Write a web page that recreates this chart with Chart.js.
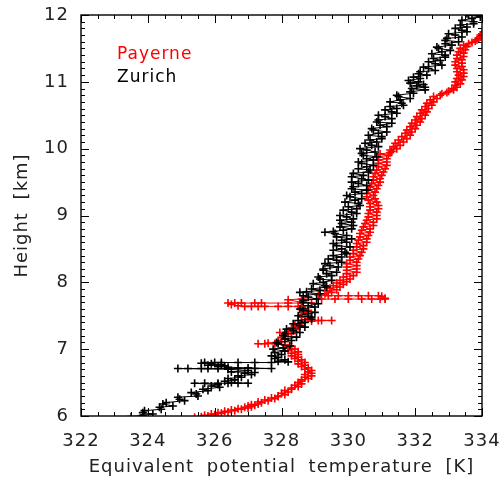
<!DOCTYPE html>
<html><head><meta charset="utf-8">
<script src="https://cdn.jsdelivr.net/npm/chart.js@4.4.1/dist/chart.umd.min.js"></script>
<style>html,body{margin:0;padding:0;background:#fff;}canvas{display:block;}</style>
</head><body>
<canvas id="c" width="504" height="479"></canvas>
<script>
const seriesNames = ['Payerne', 'Zurich'];
const seriesColors = ['#ff0000', '#000000'];
const xTitle = 'Equivalent potential temperature [K]';
const yTitle = 'Height [km]';
const xRange = [322, 334];
const yRange = [6, 12];

const zurichHeight = [
 5.97,5.99,6.01,6.03,6.05,6.08,6.10,6.13,6.15,6.18,
 6.20,6.23,6.25,6.28,6.30,6.33,6.35,6.38,6.40,6.43,
 6.45,6.47,6.49,6.49,6.49,6.49,6.49,6.49,6.50,6.52,
 6.54,6.56,6.58,6.60,6.62,6.64,6.65,6.66,6.68,6.70,
 6.71,6.71,6.71,6.71,6.71,6.71,6.71,6.71,6.72,6.73,
 6.74,6.75,6.76,6.77,6.78,6.79,6.80,6.80,6.80,6.80,
 6.80,6.80,6.81,6.82,6.84,6.86,6.88,6.90,6.92,6.95,
 6.97,7.00,7.02,7.05,7.08,7.10,7.13,7.15,7.18,7.20,
 7.23,7.25,7.28,7.30,7.33,7.35,7.38,7.40,7.43,7.45,
 7.48,7.50,7.53,7.55,7.58,7.60,7.63,7.65,7.68,7.70,
 7.73,7.75,7.78,7.80,7.83,7.85,7.86,7.88,7.90,7.93,
 7.95,7.98,8.00,8.03,8.05,8.08,8.10,8.13,8.15,8.18,
 8.20,8.23,8.25,8.28,8.30,8.33,8.35,8.38,8.40,8.43,
 8.45,8.48,8.50,8.53,8.55,8.58,8.60,8.63,8.65,8.68,
 8.70,8.73,8.75,8.76,8.78,8.80,8.83,8.85,8.88,8.90,
 8.93,8.95,8.98,9.00,9.03,9.05,9.08,9.10,9.13,9.15,
 9.18,9.20,9.23,9.25,9.28,9.30,9.33,9.35,9.38,9.40,
 9.43,9.45,9.48,9.50,9.53,9.55,9.58,9.60,9.63,9.65,
 9.68,9.70,9.73,9.75,9.78,9.80,9.83,9.85,9.88,9.90,
 9.93,9.95,9.98,10.00,10.03,10.05,10.08,10.10,10.13,10.15,
 10.18,10.20,10.23,10.25,10.28,10.30,10.33,10.35,10.38,10.40,
 10.43,10.45,10.48,10.50,10.53,10.55,10.58,10.60,10.63,10.65,
 10.68,10.70,10.73,10.75,10.78,10.80,10.83,10.85,10.88,10.90,
 10.92,10.94,10.96,10.98,11.00,11.02,11.05,11.07,11.10,11.12,
 11.15,11.17,11.20,11.22,11.25,11.27,11.30,11.32,11.35,11.37,
 11.40,11.42,11.45,11.47,11.50,11.52,11.55,11.57,11.60,11.62,
 11.65,11.67,11.70,11.72,11.75,11.77,11.80,11.82,11.85,11.87,
 11.90,11.92,11.95,11.97,12.00,12.02,12.05,12.08,12.10,12.12
];
const zurichTheta = [
 323.8,323.5,323.85,324.15,323.85,323.9,324.4,324.35,324.75,324.45,
 324.55,325.1,324.95,324.9,325.5,325.45,325.3,325.8,325.65,326.15,
 325.9,326.1,325.4,325.7,326.1,326.4,326.7,327.0,326.5,326.3,
 326.6,326.4,326.8,326.7,327.1,326.9,327.2,326.5,327.0,326.4,
 324.9,325.2,325.6,325.8,326.1,326.7,327.2,327.7,327.0,326.4,
 326.1,326.3,325.8,326.2,325.9,325.6,325.7,326.0,326.2,326.7,
 327.2,327.7,328.2,327.9,328.1,327.8,327.9,327.7,328.0,327.8,
 328.1,327.75,328.05,328.25,327.9,327.85,328.3,328.1,328.45,328.05,
 328.1,328.55,328.35,328.15,328.7,328.55,328.35,328.7,328.5,328.9,
 328.9,328.5,328.8,329.0,328.65,328.55,329.0,328.8,329.1,328.65,
 328.65,329.05,328.8,328.65,329.15,328.55,328.75,329.15,328.9,329.35,
 329.3,328.95,329.25,329.5,329.15,329.1,329.5,329.35,329.65,329.25,
 329.25,329.7,329.45,329.3,329.8,329.65,329.4,329.8,329.55,329.95,
 329.9,329.55,329.8,330.05,329.65,329.55,329.95,329.8,330.1,329.65,
 329.95,329.6,329.3,329.55,329.85,330.1,329.75,330.15,329.8,330.1,
 329.75,330.15,329.95,329.75,330.25,330.1,329.85,330.25,330.0,330.35,
 330.3,329.9,330.2,330.4,330.05,329.95,330.4,330.2,330.55,330.1,
 330.15,330.55,330.3,330.1,330.6,330.4,330.1,330.45,330.15,330.6,
 330.65,330.3,330.55,330.75,330.4,330.3,330.75,330.55,330.85,330.45,
 330.4,330.8,330.55,330.35,330.9,330.7,330.5,330.85,330.65,331.0,
 331.0,330.6,330.9,331.15,330.75,330.7,331.15,330.95,331.3,330.85,
 330.9,331.3,331.1,330.9,331.45,331.3,331.1,331.45,331.25,331.65,
 331.6,331.25,331.55,331.85,331.5,331.45,331.95,331.85,332.3,331.9,
 332.3,332.05,332.25,331.85,332.1,331.8,332.15,331.95,332.35,332.1,
 332.15,332.6,332.4,332.25,332.8,332.6,332.4,332.75,332.55,332.9,
 332.9,332.5,332.8,333.05,332.7,332.65,333.1,332.9,333.3,332.9,
 332.95,333.4,333.2,333.0,333.55,333.4,333.2,333.55,333.35,333.75,
 333.75,333.4,333.7,333.95,333.6,333.55,334.0,333.85,334.25,333.85
];

const payerneHeight = [
 5.98,5.99,6.00,6.01,6.02,6.03,6.04,6.05,6.06,6.07,
 6.08,6.09,6.10,6.11,6.12,6.13,6.14,6.15,6.16,6.17,
 6.18,6.20,6.21,6.23,6.24,6.26,6.27,6.29,6.30,6.32,
 6.34,6.36,6.38,6.40,6.42,6.44,6.46,6.48,6.50,6.52,
 6.54,6.56,6.58,6.60,6.62,6.64,6.66,6.68,6.70,6.72,
 6.74,6.76,6.78,6.80,6.82,6.84,6.86,6.88,6.90,6.92,
 6.94,6.96,6.98,7.00,7.02,7.04,7.06,7.08,7.08,7.08,
 7.09,7.10,7.11,7.13,7.15,7.17,7.19,7.21,7.23,7.25,
 7.26,7.28,7.30,7.32,7.34,7.36,7.38,7.40,7.42,7.43,
 7.43,7.43,7.44,7.46,7.48,7.50,7.52,7.54,7.56,7.58,
 7.60,7.62,7.64,7.64,7.64,7.64,7.64,7.64,7.64,7.65,
 7.67,7.69,7.69,7.69,7.69,7.69,7.69,7.69,7.69,7.70,
 7.74,7.75,7.75,7.75,7.75,7.75,7.75,7.75,7.75,7.76,
 7.79,7.80,7.80,7.80,7.80,7.80,7.80,7.81,7.83,7.85,
 7.87,7.89,7.91,7.93,7.95,7.97,7.99,8.01,8.03,8.05,
 8.08,8.10,8.13,8.15,8.18,8.20,8.23,8.25,8.28,8.30,
 8.33,8.35,8.38,8.40,8.43,8.45,8.48,8.50,8.53,8.55,
 8.58,8.60,8.63,8.65,8.68,8.70,8.73,8.75,8.78,8.80,
 8.83,8.85,8.88,8.90,8.93,8.95,8.98,9.00,9.03,9.05,
 9.08,9.10,9.13,9.15,9.18,9.20,9.23,9.25,9.28,9.30,
 9.33,9.35,9.38,9.40,9.43,9.45,9.48,9.50,9.53,9.55,
 9.58,9.60,9.63,9.65,9.68,9.70,9.73,9.75,9.78,9.80,
 9.83,9.85,9.88,9.90,9.92,9.94,9.96,9.98,10.00,10.03,
 10.05,10.08,10.10,10.13,10.15,10.18,10.20,10.23,10.25,10.28,
 10.30,10.33,10.35,10.38,10.40,10.43,10.45,10.48,10.50,10.53,
 10.55,10.58,10.60,10.63,10.65,10.68,10.70,10.73,10.75,10.78,
 10.80,10.82,10.84,10.86,10.88,10.90,10.92,10.95,10.97,11.00,
 11.03,11.05,11.08,11.10,11.13,11.15,11.18,11.20,11.23,11.25,
 11.28,11.30,11.33,11.35,11.38,11.40,11.43,11.45,11.48,11.50,
 11.53,11.55,11.57,11.59,11.61,11.63,11.65,11.67,11.70,11.72,
 11.75,11.78
];
const payerneTheta = [
 325.4,325.6,325.8,325.7,326.0,325.9,326.2,326.1,326.4,326.3,
 326.6,326.5,326.8,326.7,327.0,326.9,327.1,327.0,327.2,327.1,
 327.3,327.4,327.3,327.6,327.5,327.8,327.7,327.9,327.9,328.1,
 328.0,328.2,328.1,328.3,328.3,328.5,328.4,328.6,328.5,328.6,
 328.6,328.8,328.7,328.9,328.7,328.9,328.8,328.9,328.7,328.8,
 328.6,328.7,328.5,328.7,328.5,328.6,328.4,328.5,328.3,328.5,
 328.3,328.5,328.2,328.4,328.2,328.3,328.1,327.8,327.5,327.3,
 327.6,327.9,328.1,327.9,328.1,328.0,328.2,328.1,328.3,327.95,
 328.2,328.3,328.4,328.3,328.5,328.4,328.6,328.6,328.9,329.2,
 329.5,329.1,328.7,328.8,328.6,328.8,328.6,328.8,328.7,328.8,
 328.7,328.6,328.5,328.2,327.9,327.5,327.3,327.1,326.9,326.7,
 326.5,326.4,326.6,326.8,327.2,327.4,328.2,328.6,328.9,328.6,
 328.2,328.6,329.2,329.6,330.0,330.4,330.7,330.95,331.1,331.1,
 331.0,330.9,330.6,330.3,330.0,329.7,329.4,329.1,329.3,329.5,
 329.35,329.65,329.45,329.75,329.55,329.85,329.65,329.95,329.75,330.05,
 329.85,330.15,329.95,330.25,329.95,330.25,329.95,330.25,329.95,330.25,
 330.05,330.3,330.05,330.35,330.15,330.4,330.15,330.45,330.25,330.45,
 330.25,330.55,330.3,330.55,330.35,330.6,330.35,330.65,330.4,330.65,
 330.45,330.75,330.5,330.75,330.55,330.85,330.6,330.85,330.6,330.85,
 330.65,330.9,330.65,330.9,330.65,330.85,330.6,330.8,330.55,330.75,
 330.55,330.8,330.6,330.85,330.65,330.9,330.7,330.95,330.75,330.95,
 330.75,331.0,330.8,331.05,330.85,331.1,330.9,331.15,330.9,331.15,
 330.9,331.15,330.9,331.2,330.95,331.25,331.3,331.25,331.45,331.35,
 331.55,331.4,331.65,331.5,331.75,331.6,331.85,331.7,331.9,331.75,
 332.0,331.85,332.05,331.9,332.15,332.0,332.2,332.05,332.3,332.15,
 332.35,332.2,332.4,332.3,332.5,332.35,332.55,332.45,332.65,332.55,
 332.75,332.8,332.95,333.0,333.15,333.1,333.25,333.2,333.35,333.2,
 333.4,333.25,333.45,333.3,333.45,333.25,333.45,333.25,333.4,333.2,
 333.4,333.2,333.4,333.25,333.45,333.25,333.45,333.3,333.5,333.35,
 333.55,333.45,333.6,333.7,333.8,333.85,333.9,333.95,333.95,334.0,
 334.05,334.2
];

const FONT = '"DejaVu Sans", "Liberation Sans", sans-serif';
const TEXT = '#222';

function pts(xs, ys) { return xs.map((v, i) => ({ x: v, y: ys[i] })); }

const framePlugin = {
  id: 'frame',
  beforeDraw(chart) {
    chart.ctx.letterSpacing = '1px';
    chart.ctx.wordSpacing = '6px';
  },
  afterDatasetsDraw(chart) {
    const { ctx, chartArea: a, scales: { x, y } } = chart;
    ctx.save();
    ctx.strokeStyle = '#000';
    ctx.lineWidth = 1.4;
    ctx.strokeRect(a.left, a.top, a.right - a.left, a.bottom - a.top);
    ctx.beginPath();
    const nx = Math.round((x.max - x.min) / 0.5);
    for (let i = 0; i <= nx; i++) {
      const v = x.min + i * 0.5;
      const px = Math.round(x.getPixelForValue(v)) + 0.5;
      const len = (i % 4 === 0) ? 8 : 4;
      ctx.moveTo(px, a.bottom); ctx.lineTo(px, a.bottom - len);
      ctx.moveTo(px, a.top); ctx.lineTo(px, a.top + len);
    }
    const ny = Math.round((y.max - y.min) / 0.1);
    for (let i = 0; i <= ny; i++) {
      const v = y.min + i * 0.1;
      const py = Math.round(y.getPixelForValue(v)) + 0.5;
      const len = (i % 10 === 0) ? 8 : 4;
      ctx.moveTo(a.left, py); ctx.lineTo(a.left + len, py);
      ctx.moveTo(a.right, py); ctx.lineTo(a.right - len, py);
    }
    ctx.lineWidth = 1;
    ctx.stroke();
    ctx.restore();
  },
  afterDraw(chart) {
    const ctx = chart.ctx;
    ctx.save();
    ctx.letterSpacing = '1px';
    ctx.font = '17px ' + FONT;
    ctx.textBaseline = 'alphabetic';
    ctx.textAlign = 'left';
    ctx.fillStyle = seriesColors[0];
    ctx.fillText(seriesNames[0], 117, 59);
    ctx.fillStyle = seriesColors[1];
    ctx.fillText(seriesNames[1], 117, 82);
    ctx.restore();
  }
};

new Chart(document.getElementById('c'), {
  type: 'scatter',
  data: {
    datasets: [
      {
        label: seriesNames[0], data: pts(payerneTheta, payerneHeight),
        showLine: true, borderColor: seriesColors[0], backgroundColor: seriesColors[0],
        borderWidth: 1, pointStyle: 'cross', pointRadius: 4, pointBorderWidth: 1.6,
        pointBorderColor: seriesColors[0], clip: 0, order: 2
      },
      {
        label: seriesNames[1], data: pts(zurichTheta, zurichHeight),
        showLine: true, borderColor: seriesColors[1], backgroundColor: seriesColors[1],
        borderWidth: 1, pointStyle: 'cross', pointRadius: 4, pointBorderWidth: 1.6,
        pointBorderColor: seriesColors[1], clip: 0, order: 1
      }
    ]
  },
  options: {
    responsive: false, animation: false, devicePixelRatio: 1,
    layout: { padding: { top: 15, right: 22, left: 0, bottom: 0 }, autoPadding: false },
    plugins: { legend: { display: false }, tooltip: { enabled: false } },
    scales: {
      x: {
        type: 'linear', min: xRange[0], max: xRange[1],
        ticks: { stepSize: 2, maxRotation: 0, padding: 15, color: TEXT, font: { family: FONT, size: 18 } },
        grid: { display: false, drawTicks: false }, border: { display: false },
        title: { display: true, text: xTitle, color: TEXT, font: { family: FONT, size: 18 }, padding: { top: 0, bottom: 1 } },
        afterFit(s) { s.height = 63; s.paddingLeft = 0; s.paddingRight = 0; }
      },
      y: {
        type: 'linear', min: yRange[0], max: yRange[1],
        ticks: { stepSize: 1, padding: 12, color: TEXT, font: { family: FONT, size: 18 } },
        grid: { display: false, drawTicks: false }, border: { display: false },
        title: { display: true, text: yTitle, color: TEXT, font: { family: FONT, size: 18 }, padding: { top: 12, bottom: 0 } },
        afterFit(s) { s.width = 81; s.paddingTop = 0; s.paddingBottom = 0; }
      }
    }
  },
  plugins: [framePlugin]
});
</script>
</body></html>
